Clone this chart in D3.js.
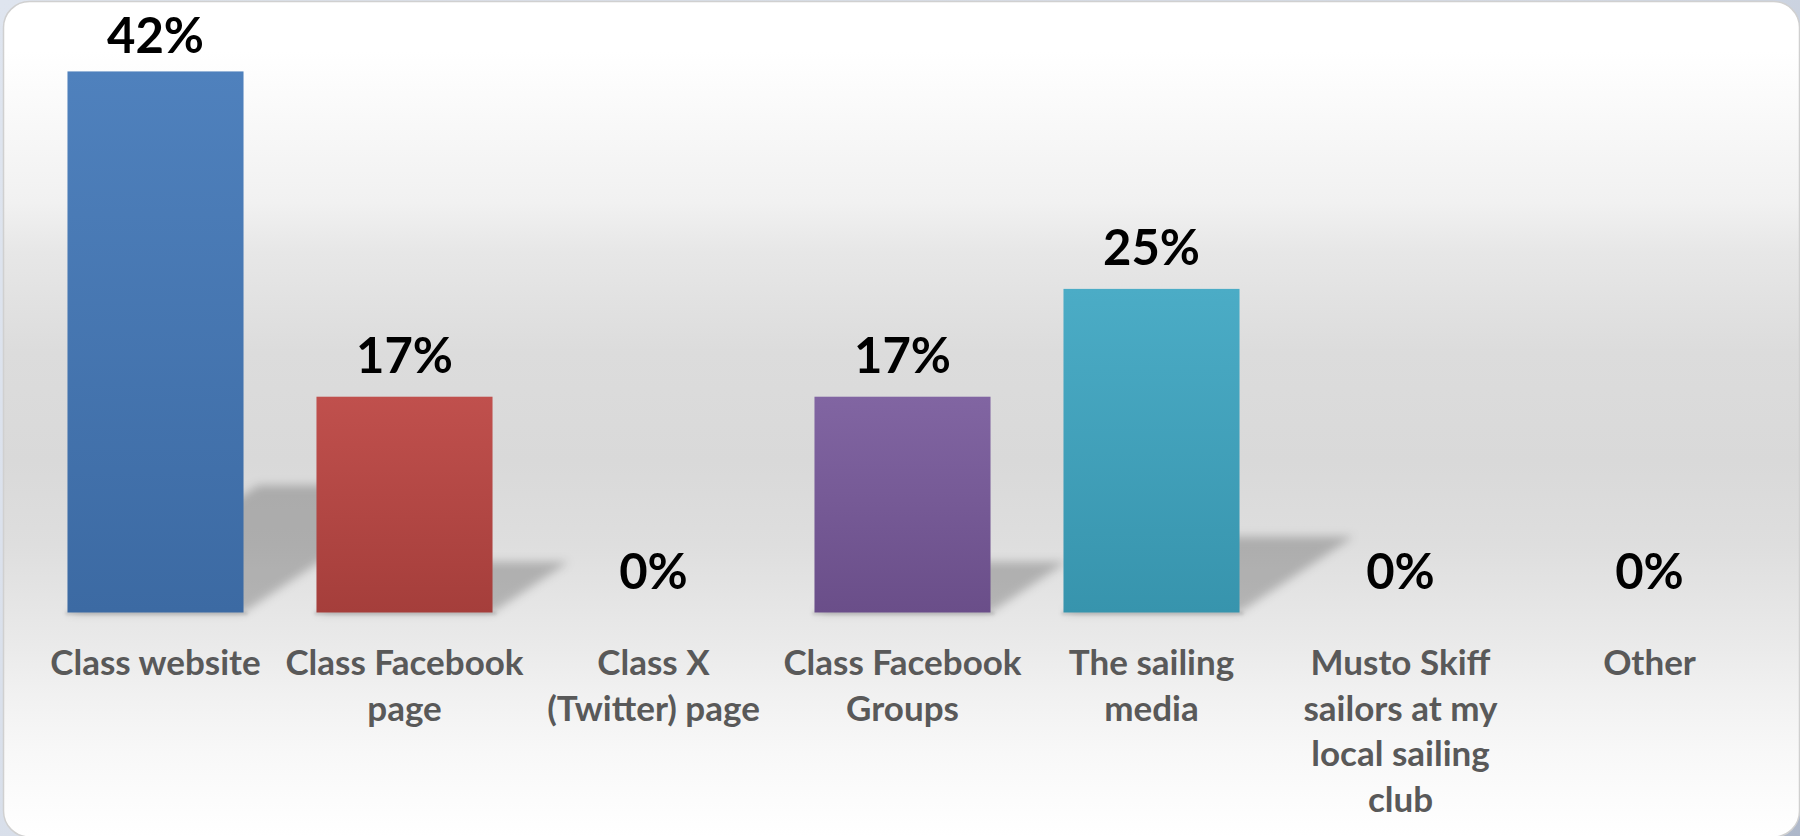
<!DOCTYPE html>
<html>
<head>
<meta charset="utf-8">
<script src="https://cdn.jsdelivr.net/npm/d3@7/dist/d3.min.js"></script>
<style>
  html, body { margin: 0; padding: 0; }
  body { width: 1800px; height: 836px; overflow: hidden;
         background: linear-gradient(135deg, #dfe5ef 0%, #d3dae6 60%, #aeb8ca 100%); }
  svg { display: block; }
</style>
</head>
<body>
<svg id="chart" width="1800" height="836"></svg>
<script>
// ---- data ----
const categories = [
  "Class website",
  "Class Facebook\npage",
  "Class X\n(Twitter) page",
  "Class Facebook\nGroups",
  "The sailing\nmedia",
  "Musto Skiff\nsailors at my\nlocal sailing\nclub",
  "Other"
];
const values = [41.8, 16.67, 0, 16.67, 25, 0, 0];
const barColorsTop = ["#4f81bd", "#c0504d", "#9bbb59", "#8165a2", "#4bacc6", "#f79646", "#2c4d75"];
const barColorsBottom = ["#3c6aa3", "#a53e3b", "#7e9c43", "#6a4e89", "#3794ad", "#d17a2d", "#203a59"];

// ---- setup ----
const svg = d3.select("#chart");
const defs = svg.append("defs");

const bg = defs.append("linearGradient").attr("id", "bgGrad")
  .attr("x1", 0).attr("y1", 0).attr("x2", 0).attr("y2", 1);
[[0, "#ffffff"], [0.06, "#ffffff"], [0.24, "#f1f1f1"], [0.30, "#e7e7e7"], [0.42, "#dcdcdc"],
 [0.55, "#d9d9d9"], [0.65, "#dedede"], [0.77, "#eaeaea"], [0.82, "#f0f0f0"], [0.9, "#f8f8f8"], [1, "#ffffff"]]
  .forEach(([o, c]) => bg.append("stop").attr("offset", o).attr("stop-color", c));

categories.forEach((c, i) => {
  const g = defs.append("linearGradient").attr("id", "barGrad" + i)
    .attr("x1", 0).attr("y1", 0).attr("x2", 0).attr("y2", 1);
  g.append("stop").attr("offset", 0).attr("stop-color", barColorsTop[i]);
  g.append("stop").attr("offset", 1).attr("stop-color", barColorsBottom[i]);
});

defs.append("filter").attr("id", "blur")
  .attr("x", "-50%").attr("y", "-50%").attr("width", "200%").attr("height", "200%")
  .append("feGaussianBlur").attr("stdDeviation", 5);
defs.append("filter").attr("id", "blurSmall")
  .attr("x", "-10%").attr("y", "-100%").attr("width", "120%").attr("height", "300%")
  .append("feGaussianBlur").attr("stdDeviation", 1.5);

// panel
svg.append("rect")
  .attr("x", 3.5).attr("y", 1.5).attr("width", 1796).attr("height", 835.5)
  .attr("rx", 26).attr("ry", 26)
  .attr("fill", "url(#bgGrad)")
  .attr("stroke", "#d0d0d0").attr("stroke-width", 1.5);

// scales
const x = d3.scaleBand().domain(categories)
  .range([31, 1774]).paddingInner(0.293).paddingOuter(0.1465);
const y = d3.scaleLinear().domain([0, 45]).range([612.5, 30]);
const base = y(0);

const data = categories.map((c, i) => ({ c, v: values[i], i }));

// shadows
const shadowG = svg.append("g");
data.filter(d => d.v > 0).forEach(d => {
  const L = x(d.c), R = x(d.c) + x.bandwidth();
  const h = base - y(d.v);
  const hs = 0.235 * h, s = 1.5 * hs;
  shadowG.append("polygon")
    .attr("points", [[L, base], [R, base], [R + s, base - hs], [L + s, base - hs]].map(p => p.join(",")).join(" "))
    .attr("fill", "#000").attr("fill-opacity", 0.22)
    .attr("filter", "url(#blur)");
  shadowG.append("rect")
    .attr("x", L - 2).attr("y", base - 1).attr("width", x.bandwidth() + 6).attr("height", 3.5)
    .attr("fill", "#000").attr("fill-opacity", 0.12)
    .attr("filter", "url(#blurSmall)");
});

// bars
svg.append("g").selectAll("rect").data(data.filter(d => d.v > 0)).join("rect")
  .attr("x", d => x(d.c))
  .attr("y", d => y(d.v))
  .attr("width", x.bandwidth())
  .attr("height", d => base - y(d.v))
  .attr("fill", d => "url(#barGrad" + d.i + ")");

// value labels
const fmt = d3.format(".0f");
svg.append("g").selectAll("text").data(data).join("text")
  .attr("x", d => x(d.c) + x.bandwidth() / 2)
  .attr("y", d => Math.max(y(d.v) - 24, 53))
  .attr("text-anchor", "middle")
  .attr("font-family", "Lato, 'Open Sans', sans-serif")
  .attr("font-weight", 700)
  .attr("font-size", 49)
  .attr("fill", "#000")
  .text(d => fmt(d.v) + "%");

// category axis labels
const xAxis = d3.axisBottom(x).tickSize(0).tickPadding(0).tickFormat("");
const axisG = svg.append("g").attr("transform", `translate(0,${base})`).call(xAxis);
axisG.select(".domain").remove();
axisG.selectAll(".tick").each(function(d) {
  const t = d3.select(this).append("text")
    .attr("text-anchor", "middle")
    .attr("font-family", "Lato, 'Open Sans', sans-serif")
    .attr("font-weight", 700)
    .attr("font-size", 35)
    .attr("fill", "#595959");
  d.split("\n").forEach((line, k) => {
    t.append("tspan").attr("x", 0).attr("y", 62.5 + k * 45.5).text(line);
  });
});
</script>
</body>
</html>
